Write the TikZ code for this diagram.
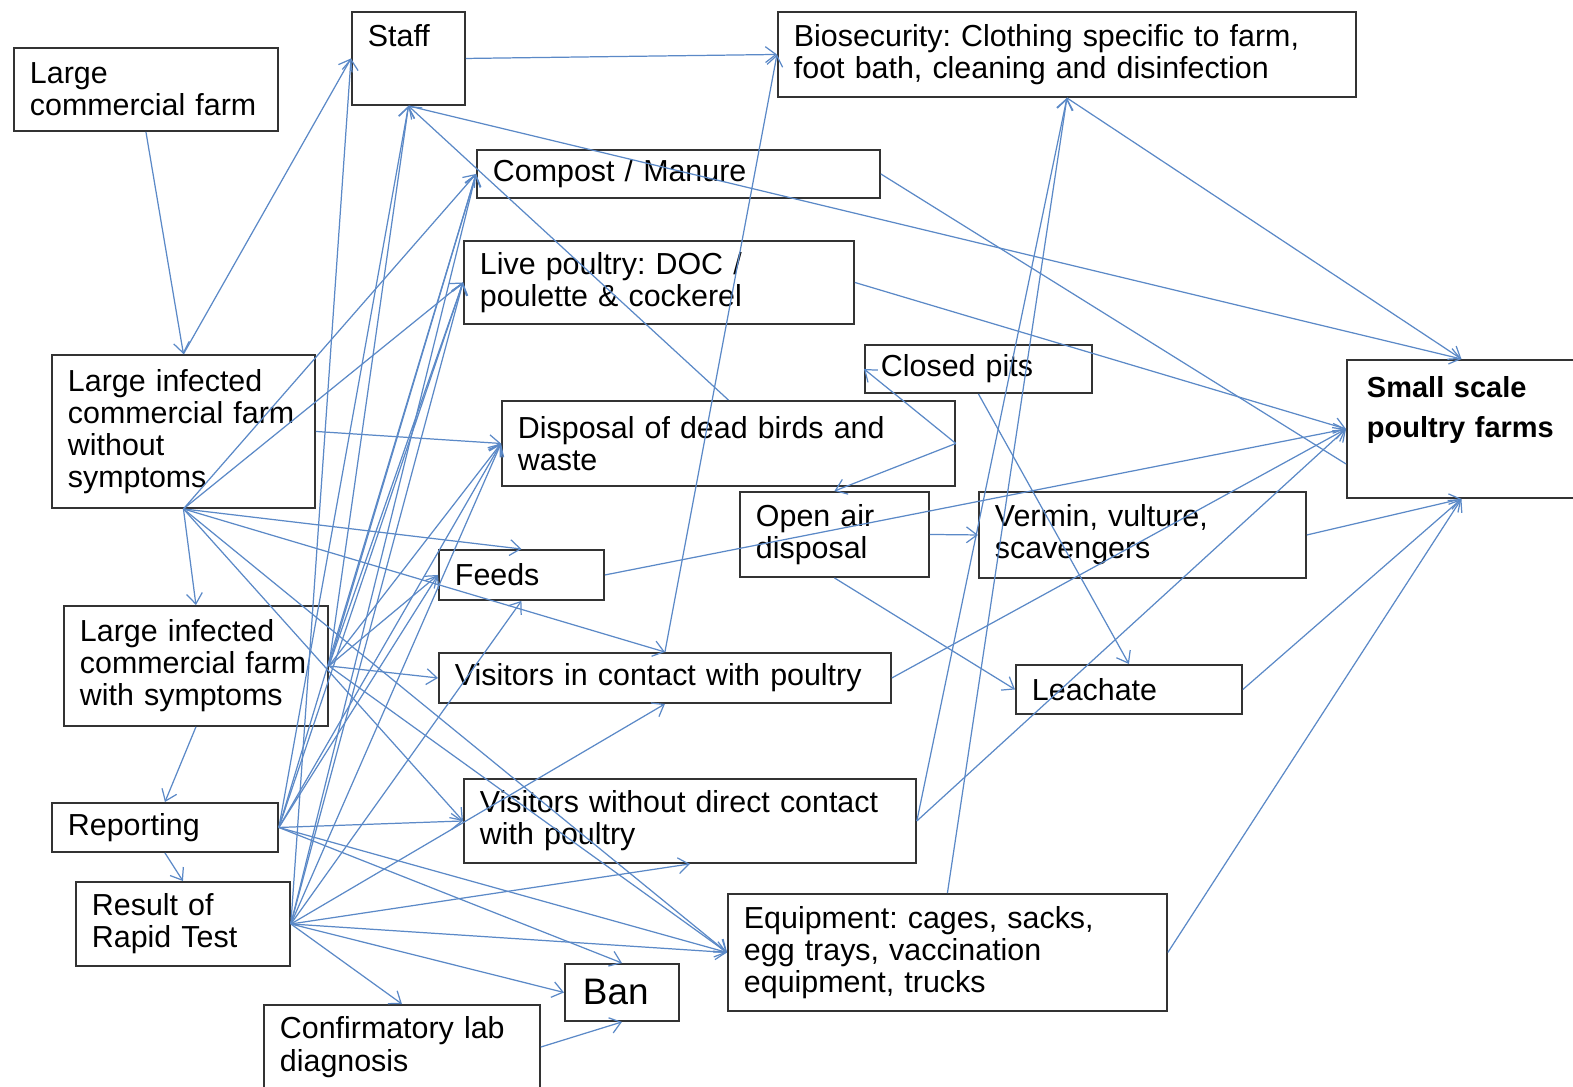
\documentclass[tikz,border=0pt]{standalone}
\usepackage{fontspec}
\setmainfont{Liberation Sans}
\usetikzlibrary{arrows.meta}
\definecolor{linkblue}{RGB}{91,137,199}
\frenchspacing

\begin{document}
\begin{tikzpicture}[x=0.02cm, y=-0.02cm,
    box/.style={
      draw=black!80, line width=1.1pt, rectangle, anchor=north west, align=left,
      inner xsep=0.32cm, inner ysep=0.1cm, font=\fontsize{17.3}{18.3}\selectfont
    },
    link/.style={
      -{Straight Barb[length=6pt,width=9pt]},
      draw=linkblue, line width=0.7pt
    },
    bare/.style={draw=linkblue, line width=0.7pt}
]
  \useasboundingbox (0,0) rectangle (1573,1086);

  % Boxes
  \node[box, minimum width=5.28cm, minimum height=1.66cm, text width=4.64cm] (farm) at (13,47) {Large\\commercial farm};
  \node[box, minimum width=2.26cm, text width=1.62cm, text height=0.60cm, text depth=1.06cm] (staff) at (351,11) {Staff};
  \node[box, minimum width=11.56cm, minimum height=1.70cm, text width=10.92cm] (bio) at (777,11) {Biosecurity: Clothing specific to farm,\\foot bath, cleaning and disinfection};
  \node[box, minimum width=8.06cm, minimum height=0.96cm, text width=7.42cm] (comp) at (476,149) {Compost / Manure};
  \node[box, minimum width=7.80cm, minimum height=1.66cm, text width=7.16cm] (live) at (463,240) {Live poultry: DOC /\\poulette \& cockerel};
  \node[box, minimum width=4.54cm, minimum height=0.96cm, text width=3.90cm] (pits) at (864,344) {Closed pits};
  \node[box, font=\bfseries\fontsize{16.5}{22.7}\selectfont, inner xsep=0.4cm, minimum width=4.58cm, text width=3.78cm, text height=0.66cm, text depth=1.90cm] (small) at (1346,359) {Small scale\\poultry farms};
  \node[box, minimum width=5.26cm, minimum height=3.06cm, text width=4.62cm] (noSym) at (51,354) {Large infected\\commercial farm\\without\\symptoms};
  \node[box, minimum width=9.06cm, minimum height=1.70cm, text width=8.42cm] (disp) at (501,400) {Disposal of dead birds and\\waste};
  \node[box, minimum width=3.78cm, minimum height=1.70cm, text width=3.14cm] (openAir) at (739,491) {Open air\\disposal};
  \node[box, minimum width=6.54cm, minimum height=1.72cm, text width=5.90cm] (vermin) at (978,491) {Vermin, vulture,\\scavengers};
  \node[box, minimum width=3.30cm, minimum height=1.00cm, text width=2.66cm] (feeds) at (438,549) {Feeds};
  \node[box, minimum width=5.28cm, minimum height=2.40cm, text width=4.64cm] (sym) at (63,605) {Large infected\\commercial farm\\with symptoms};
  \node[box, minimum width=9.04cm, minimum height=1.00cm, text width=8.40cm] (visIn) at (438,652) {Visitors in contact with poultry};
  \node[box, minimum width=4.52cm, minimum height=0.98cm, text width=3.88cm] (leach) at (1015,664) {Leachate};
  \node[box, minimum width=4.52cm, minimum height=0.98cm, text width=3.88cm] (report) at (51,802) {Reporting};
  \node[box, minimum width=9.04cm, minimum height=1.68cm, text width=8.40cm] (visOut) at (463,778) {Visitors without direct contact\\with poultry};
  \node[box, minimum width=4.28cm, minimum height=1.68cm, text width=3.64cm] (result) at (75,881) {Result of\\Rapid Test};
  \node[box, minimum width=8.78cm, minimum height=2.34cm, text width=8.14cm] (equip) at (727,893) {Equipment: cages, sacks,\\egg trays, vaccination\\equipment, trucks};
  \node[box, font=\fontsize{21}{24}\selectfont, inner xsep=0.36cm, minimum width=2.28cm, minimum height=1.14cm, text width=1.56cm] (ban) at (564,963) {Ban};
  \node[box, minimum width=5.52cm, text width=4.88cm, text height=0.58cm, text depth=1.14cm] (lab) at (263,1004) {Confirmatory lab\\diagnosis};

  % Fleches du haut
  \draw[link] (farm.south) -- (noSym.north);
  \draw[link] (noSym.north) -- (staff.west);
  \draw[link] (staff.east) -- (bio.west);
  \draw[link] (staff.south) -- (small.north);
  \draw[link] (bio.south) -- (small.north);
  \draw[link] (disp.north) -- (staff.south);
  \draw[bare] (comp.east) -- ([shift={(0,35)}]small.west);
  \draw[link] (live.east) -- (small.west);
  \draw[link] (visIn.north) -- (bio.west);
  \draw[link] (visOut.east) -- (bio.south);
  \draw[link] (equip.north) -- (bio.south);

  % Elimination
  \draw[link] (noSym.east) -- (disp.west);
  \draw[link] (disp.east) -- (pits.west);
  \draw[link] (disp.east) -- (openAir.north);
  \draw[link] (pits.south) -- (leach.north);
  \draw[link] (openAir.east) -- (vermin.west);
  \draw[link] (openAir.south) -- (leach.west);

  % Vers les petites fermes
  \draw[link] (feeds.east) -- (small.west);
  \draw[link] (visIn.east) -- (small.west);
  \draw[link] (visOut.east) -- (small.west);
  \draw[link] (vermin.east) -- (small.south);
  \draw[link] (leach.east) -- (small.south);
  \draw[link] (equip.east) -- (small.south);

  % Ferme sans symptomes
  \draw[link] (noSym.south) -- (comp.west);
  \draw[link] (noSym.south) -- (live.west);
  \draw[link] (noSym.south) -- (feeds.north);
  \draw[link] (noSym.south) -- (visIn.north);
  \draw[link] (noSym.south) -- (sym.north);
  \draw[link] (noSym.south) -- (visOut.west);
  \draw[link] (noSym.south) -- (equip.west);

  % Ferme avec symptomes
  \draw[link] (sym.east) -- (staff.south);
  \draw[link] (sym.east) -- (comp.west);
  \draw[link] (sym.east) -- (live.west);
  \draw[link] (sym.east) -- (disp.west);
  \draw[link] (sym.east) -- (feeds.west);
  \draw[link] (sym.east) -- (visIn.west);
  \draw[link] (sym.east) -- (equip.west);
  \draw[link] (sym.south) -- (report.north);

  % Declaration
  \draw[link] (report.east) -- (staff.south);
  \draw[link] (report.east) -- (comp.west);
  \draw[link] (report.east) -- (live.west);
  \draw[link] (report.east) -- (disp.west);
  \draw[link] (report.east) -- (feeds.west);
  \draw[link] (report.east) -- (visOut.west);
  \draw[link] (report.east) -- (equip.west);
  \draw[link] (report.east) -- (ban.north);
  \draw[link] (report.south) -- (result.north);

  % Test rapide
  \draw[link] (result.east) -- (staff.west);
  \draw[link] (result.east) -- (comp.west);
  \draw[link] (result.east) -- (live.west);
  \draw[link] (result.east) -- (disp.west);
  \draw[link] (result.east) -- (feeds.south);
  \draw[link] (result.east) -- (visIn.south);
  \draw[link] (result.east) -- (visOut.south);
  \draw[link] (result.east) -- (equip.west);
  \draw[link] (result.east) -- (ban.west);
  \draw[link] (result.east) -- (lab.north);
  \draw[link] ([shift={(0,43)}]lab.north east) -- (ban.south);
\end{tikzpicture}
\end{document}
